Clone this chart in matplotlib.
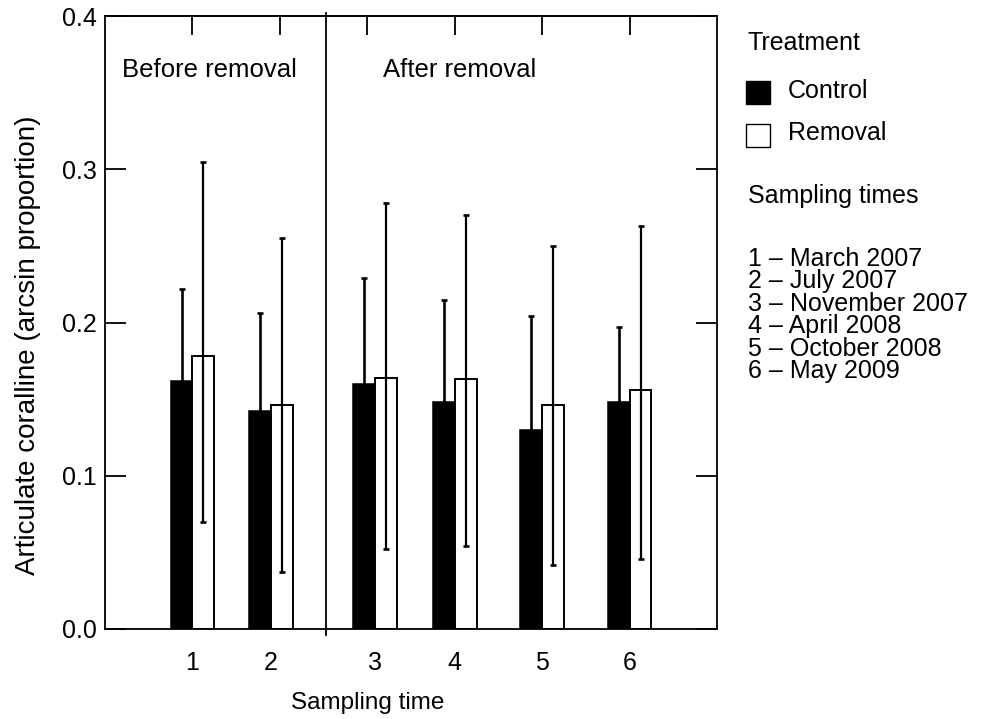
import matplotlib.pyplot as plt
from matplotlib.patches import Rectangle

plt.rcParams["font.family"] = ["Liberation Sans", "DejaVu Sans"]

# data
times = ["1", "2", "3", "4", "5", "6"]
positions = [1.0, 1.9, 3.09, 4.0, 5.0, 6.0]
control_mean = [0.162, 0.142, 0.160, 0.148, 0.130, 0.148]
control_upper = [0.222, 0.206, 0.229, 0.215, 0.204, 0.197]
removal_mean = [0.178, 0.146, 0.164, 0.163, 0.146, 0.156]
removal_upper = [0.305, 0.255, 0.278, 0.270, 0.250, 0.263]
removal_lower = [0.070, 0.037, 0.052, 0.054, 0.042, 0.046]
period_split = 2.53
periods = ["Before removal", "After removal"]
sampling_dates = ["March 2007", "July 2007", "November 2007",
                  "April 2008", "October 2008", "May 2009"]

w = 0.25
xc = [p - w / 2 for p in positions]
xr = [p + w / 2 for p in positions]
err_c = [u - m for u, m in zip(control_upper, control_mean)]
err_r = [[m - l for m, l in zip(removal_mean, removal_lower)],
         [u - m for u, m in zip(removal_upper, removal_mean)]]

fig = plt.figure(figsize=(9.82, 7.19), dpi=100)
ax = fig.add_axes([105 / 982, 1 - 629 / 719, 612 / 982, 613 / 719])

ax.bar(xc, control_mean, width=w, color="black", edgecolor="black",
       linewidth=1.1, zorder=2)
ax.bar(xr, removal_mean, width=w, color="white", edgecolor="black",
       linewidth=1.4, zorder=2)

ax.errorbar(xc, control_mean, yerr=err_c, fmt="none", ecolor="black",
            elinewidth=1.9, capsize=2, capthick=1.9, zorder=3)
ax.errorbar(xr, removal_mean, yerr=err_r, fmt="none", ecolor="black",
            elinewidth=1.6, capsize=2, capthick=1.9, zorder=3)

ax.plot([period_split, period_split], [-0.004, 0.402], color="black",
        linewidth=1.3, clip_on=False, zorder=4)

ax.text(0.2, 0.365, periods[0], fontsize=18.5, ha="left", va="center")
ax.text(3.18, 0.365, periods[1], fontsize=18.5, ha="left", va="center")

ax.set_xlim(0, 7)
ax.set_ylim(0, 0.4)
ax.set_xticks(positions)
ax.set_xticklabels(times)
ax.set_yticks([0.0, 0.1, 0.2, 0.3, 0.4])
ax.set_yticklabels(["0.0", "0.1", "0.2", "0.3", "0.4"])
ax.tick_params(axis="x", length=0, pad=16, labelsize=18)
ax.tick_params(axis="y", direction="in", length=15, width=1.3,
               left=True, right=True, pad=6, labelsize=18)

top = ax.secondary_xaxis("top")
top.set_xticks([1, 2, 3, 4, 5, 6])
top.tick_params(direction="in", length=14, width=1.3, labeltop=False)

for s in ax.spines.values():
    s.set_linewidth(1.3)
top.spines["top"].set_linewidth(1.3)

ax.set_xlabel("Sampling time", fontsize=17.5)
ax.xaxis.set_label_coords(263 / 612, -0.103)
ax.set_ylabel("Articulate coralline (arcsin proportion)", fontsize=20)
ax.yaxis.set_label_coords(-0.105, 0.463)

# legend / key on the right
def fx(px):
    return px / 982

def fy(py):
    return 1 - py / 719

fs = 18
fig.text(fx(748), fy(43), "Treatment", fontsize=fs, va="center")
fig.patches.append(Rectangle((fx(746), fy(104)), 24 / 982, 23 / 719,
                             transform=fig.transFigure, facecolor="black",
                             edgecolor="black", linewidth=1))
fig.text(fx(788), fy(91), "Control", fontsize=fs, va="center")
fig.patches.append(Rectangle((fx(746), fy(147)), 24 / 982, 23 / 719,
                             transform=fig.transFigure, facecolor="white",
                             edgecolor="black", linewidth=1))
fig.text(fx(788), fy(133), "Removal", fontsize=fs, va="center")
fig.text(fx(748), fy(196), "Sampling times", fontsize=fs, va="center")
for i, (t, d) in enumerate(zip(times, sampling_dates)):
    fig.text(fx(748), fy(259 + 22.4 * i), f"{t} \u2013 {d}",
             fontsize=fs, va="center")

fig.savefig("out.png", dpi=100)
